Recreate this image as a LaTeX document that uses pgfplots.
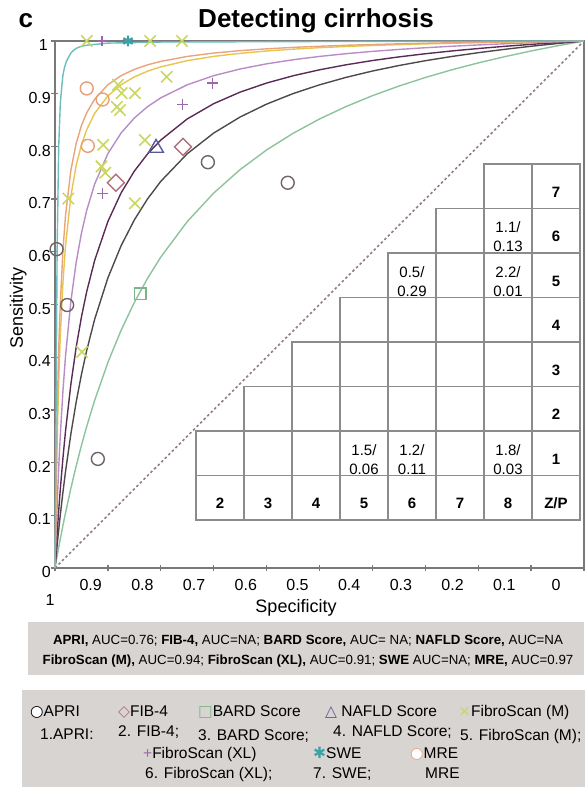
\documentclass[border=0pt]{standalone}
\usepackage{fontspec}
\setmainfont{Liberation Sans}
\newfontfamily\sym{DejaVu Sans}
\usepackage{pgfplots}
\usepackage{pgfplotstable}
\pgfplotsset{compat=1.18}
\definecolor{cTeal}{HTML}{6DBDBD}
\definecolor{cOrange}{HTML}{EAA47C}
\definecolor{cYellow}{HTML}{E8C450}
\definecolor{cLPurple}{HTML}{BA8CC6}
\definecolor{cDPurple}{HTML}{5A2C55}
\definecolor{cDGray}{HTML}{4E4A4C}
\definecolor{cGreen}{HTML}{8CC39A}
\definecolor{mAPRI}{HTML}{6E6466}
\definecolor{mFIB}{HTML}{B2707E}
\definecolor{mBARD}{HTML}{7DB58A}
\definecolor{mNAFLD}{HTML}{565A98}
\definecolor{mFSM}{HTML}{C9D75E}
\definecolor{mFSXL}{HTML}{9B68AB}
\definecolor{mSWE}{HTML}{3AA3A5}
\definecolor{mMRE}{HTML}{E69F78}
\definecolor{boxgray}{HTML}{D7D4D1}
\definecolor{gridgray}{HTML}{8C8A8A}
\definecolor{axgray}{HTML}{7A7878}
\definecolor{diag}{HTML}{8E7F86}
\newcommand{\wcirc}[1]{\makebox[0pt][l]{\textcolor{white}{\sym ●}}\textcolor{#1}{\sym ○}}
% summary ROC curves: specificity, then sensitivity of each curve
\pgfplotstableread{
spec   green  gray   dpur   lpur   yell   oran
1      0      0      0      0      0      0
0.998  0.0114 0.0216 0.0335 0.0622 0.1344 0.1662
0.995  0.0281 0.0525 0.0799 0.1427 0.2802 0.3333
0.9925 0.0417 0.0769 0.1155 0.2002 0.3693 0.4292
0.99   0.0549 0.1002 0.1487 0.2507 0.4390 0.5012
0.985  0.0806 0.1437 0.2084 0.3353 0.5413 0.6024
0.98   0.1051 0.1837 0.2608 0.4033 0.6126 0.6700
0.97   0.1511 0.2542 0.3484 0.5060 0.7056 0.7547
0.96   0.1934 0.3147 0.4187 0.5798 0.7635 0.8056
0.95   0.2325 0.3672 0.4764 0.6354 0.8031 0.8396
0.94   0.2687 0.4130 0.5246 0.6788 0.8318 0.8639
0.925  0.3182 0.4720 0.5837 0.7286 0.8627 0.8897
0.9    0.3900 0.5505 0.6576 0.7863 0.8959 0.9170
0.875  0.4512 0.6116 0.7118 0.8255 0.9171 0.9343
0.85   0.5039 0.6605 0.7531 0.8539 0.9318 0.9461
0.825  0.5497 0.7004 0.7857 0.8754 0.9427 0.9548
0.8    0.5900 0.7337 0.8121 0.8922 0.9509 0.9613
0.75   0.6573 0.7861 0.8521 0.9169 0.9627 0.9707
0.7    0.7115 0.8253 0.8811 0.9342 0.9708 0.9771
0.65   0.7560 0.8558 0.9030 0.9469 0.9766 0.9817
0.6    0.7932 0.8802 0.9202 0.9567 0.9810 0.9851
0.55   0.8248 0.9002 0.9340 0.9644 0.9845 0.9879
0.5    0.8520 0.9168 0.9453 0.9707 0.9873 0.9900
0.45   0.8755 0.9309 0.9548 0.9759 0.9896 0.9919
0.4    0.8962 0.9430 0.9629 0.9803 0.9915 0.9933
0.35   0.9144 0.9534 0.9698 0.9840 0.9931 0.9946
0.3    0.9307 0.9626 0.9758 0.9872 0.9945 0.9957
0.25   0.9453 0.9706 0.9811 0.9900 0.9957 0.9967
0.2    0.9584 0.9778 0.9857 0.9925 0.9968 0.9975
0.15   0.9702 0.9842 0.9899 0.9947 0.9977 0.9982
0.1    0.9811 0.9900 0.9936 0.9967 0.9986 0.9989
0.05   0.9909 0.9952 0.9970 0.9984 0.9993 0.9995
0      1      1      1      1      1      1
}\sroc
\begin{document}
\begin{tikzpicture}
\path[use as bounding box] (-55bp,-219bp) rectangle (530bp,568bp);
\begin{axis}[at={(0,0)},anchor=south west,scale only axis,width=529bp,height=527bp,
  xmin=0,xmax=1,ymin=0,ymax=1,x dir=reverse,clip=false,
  xtick={0,0.1,0.2,0.3,0.4,0.5,0.6,0.7,0.8,0.9,1},
  ytick={0,0.1,0.2,0.3,0.4,0.5,0.6,0.7,0.8,0.9,1},
  xticklabels={},yticklabels={},
  tick align=center,major tick length=7bp,xtick pos=bottom,ytick pos=left,
  tick style={axgray,line width=1.3bp},
  axis line style={axgray,line width=1.8bp}]
\addplot[diag,line width=1.6bp,dash pattern=on 2.5bp off 2.5bp] coordinates {(1,0) (0,1)};
% SROC curves
\addplot[cGreen,line width=1.4bp] table[x=spec,y=green] {\sroc};
\addplot[cDGray,line width=1.4bp] table[x=spec,y=gray] {\sroc};
\addplot[cDPurple,line width=1.4bp] table[x=spec,y=dpur] {\sroc};
\addplot[cLPurple,line width=1.4bp] table[x=spec,y=lpur] {\sroc};
\addplot[cYellow,line width=1.4bp] table[x=spec,y=yell] {\sroc};
\addplot[cOrange,line width=1.4bp] table[x=spec,y=oran] {\sroc};
\addplot[cTeal,line width=1.4bp] coordinates {(1,0) (0.998,0.3) (0.996,0.6) (0.993,0.8) (0.99,0.88) (0.987,0.915) (0.985,0.935) (0.982,0.95) (0.978,0.962) (0.974,0.97) (0.97,0.977) (0.965,0.982) (0.96,0.986) (0.95,0.99) (0.94,0.992) (0.92,0.994) (0.9,0.996) (0.8,0.998) (0.5,0.999) (0,1)};
% study points
\addplot[only marks,mark=o,mAPRI,mark size=6.5,line width=1.4bp] coordinates {(0.997,0.605) (0.977,0.499) (0.919,0.207) (0.711,0.770) (0.560,0.731)};
\addplot[only marks,mark=square,mark options={rotate=45},mFIB,mark size=6,line width=1.4bp] coordinates {(0.885,0.731) (0.758,0.799)};
\addplot[only marks,mark=square,mBARD,mark size=5.8,line width=1.4bp] coordinates {(0.839,0.520)};
\addplot[only marks,mark=triangle,mNAFLD,mark size=8.5,line width=1.4bp] coordinates {(0.809,0.797)};
\addplot[only marks,mark=x,mFSM,mark size=8,line width=1.6bp] coordinates {(0.940,1.0) (0.820,1.0) (0.760,1.0) (0.881,0.917) (0.874,0.901) (0.849,0.901) (0.883,0.875) (0.877,0.869) (0.789,0.932) (0.909,0.803) (0.830,0.812) (0.912,0.762) (0.905,0.750) (0.849,0.692) (0.975,0.701) (0.949,0.410)};
\addplot[only marks,mark=+,mFSXL,mark size=5.5,line width=1.4bp] coordinates {(0.911,1.0) (0.702,0.920) (0.759,0.880) (0.910,0.711)};
\addplot[only marks,mark=asterisk,mSWE,mark size=5.5,line width=2.4bp] coordinates {(0.862,1.0)};
\addplot[only marks,mark=o,mMRE,mark size=6.5,line width=1.4bp] coordinates {(0.940,0.910) (0.910,0.889) (0.938,0.801)};
\end{axis}
\begin{scope}[shift={(-55bp,568bp)},x=1bp,y=-1bp]
% title
\node[anchor=base,font=\fontsize{26bp}{30bp}\selectfont\bfseries] at (316,28) {Detecting cirrhosis};
\node[anchor=base west,font=\fontsize{26bp}{30bp}\selectfont\bfseries] at (15,28) {c};
% y tick labels
\foreach \v/\t in {0/0,0.1/0.1,0.2/0.2,0.3/0.3,0.4/0.4,0.5/0.5,0.6/0.6,0.7/0.7,0.8/0.8,0.9/0.9}
  \node[anchor=base east,font=\fontsize{16bp}{18bp}\selectfont,inner sep=0pt] at (51,{577.7-527*\v}) {\t};
\node[anchor=base east,font=\fontsize{16bp}{18bp}\selectfont,inner sep=0pt] at (48,51) {1};
% x tick labels
\foreach \p/\t in {90.7/0.9,142.4/0.8,194.1/0.7,245.8/0.6,297.5/0.5,349.2/0.4,400.9/0.3,452.6/0.2,504.3/0.1,556/0}
  \node[anchor=base,font=\fontsize{16bp}{18bp}\selectfont,inner sep=0pt] at (\p,590.7) {\t};
\node[anchor=base,font=\fontsize{16bp}{18bp}\selectfont,inner sep=0pt] at (50,606) {1};
% axis labels
\node[anchor=base,font=\fontsize{18bp}{20bp}\selectfont,inner sep=0pt] at (296,613) {Specificity};
\node[anchor=base,rotate=90,font=\fontsize{18bp}{20bp}\selectfont,inner sep=0pt] at (23,308) {Sensitivity};
% table
\foreach \r in {0,...,7}{
  \pgfmathtruncatemacro\s{max(\r-1,0)}
  \foreach \c in {\s,...,7}{
    \draw[gridgray,line width=1.4bp,fill=white] ({196+48*\c},{520-44.5*\r}) rectangle ({244+48*\c},{475.5-44.5*\r});
  }
}
\foreach \c/\t in {0/2,1/3,2/4,3/5,4/6,5/7,6/8}
  \node[font=\fontsize{15bp}{17bp}\selectfont\bfseries,inner sep=0pt] at ({220+48*\c},503) {\t};
\node[font=\fontsize{15bp}{17bp}\selectfont\bfseries,inner sep=0pt] at (556,503) {Z/P};
\foreach \r in {1,...,7}
  \node[font=\fontsize{15bp}{17bp}\selectfont\bfseries,inner sep=0pt] at (556,{503.5-44.5*\r}) {\r};
\tikzset{cv/.style={font=\fontsize{15bp}{17bp}\selectfont,inner sep=0pt}}
\node[cv] at (364,450) {1.5/}; \node[cv] at (364,469) {0.06};
\node[cv] at (412,450) {1.2/}; \node[cv] at (412,469) {0.11};
\node[cv] at (508,450) {1.8/}; \node[cv] at (508,469) {0.03};
\node[cv] at (412,272) {0.5/}; \node[cv] at (412,291) {0.29};
\node[cv] at (508,272) {2.2/}; \node[cv] at (508,291) {0.01};
\node[cv] at (508,227.5) {1.1/}; \node[cv] at (508,246.5) {0.13};
% AUC box
\fill[boxgray] (28,622) rectangle (584,675);
\node[anchor=base,font=\fontsize{13.3bp}{15bp}\selectfont,inner sep=0pt] at (308,644.5) {\textbf{APRI,} AUC=0.76; \textbf{FIB-4,} AUC=NA; \textbf{BARD Score,} AUC= NA; \textbf{NAFLD Score,} AUC=NA};
\node[anchor=base,font=\fontsize{13.3bp}{15bp}\selectfont,inner sep=0pt] at (308,664.5) {\textbf{FibroScan (M),} AUC=0.94; \textbf{FibroScan (XL),} AUC=0.91; \textbf{SWE} AUC=NA; \textbf{MRE,} AUC=0.97};
% legend box
\fill[boxgray] (22,690) rectangle (586,790);
\tikzset{lg/.style={anchor=base west,font=\fontsize{15.5bp}{18bp}\selectfont,inner sep=0pt}}
\node[lg] at (30,716.5) {\wcirc{black}APRI};
\node[lg] at (118,716.5) {\textcolor{mFIB}{\sym ◇}FIB-4};
\node[lg] at (198,716.5) {\textcolor{mBARD}{\sym □}BARD Score};
\node[lg] at (325,716.5) {\textcolor{mNAFLD}{\sym △} NAFLD Score};
\node[lg] at (458,716.5) {\textcolor{mFSM}{\sym ×}FibroScan (M)};
\node[lg] at (40,740) {1.APRI:};
\node[lg] at (118,736.5) {2. FIB-4;};
\node[lg] at (198,741) {3. BARD Score;};
\node[lg] at (333,736.5) {4. NAFLD Score;};
\node[lg] at (460,741) {5. FibroScan (M);};
\node[lg] at (143,758.5) {\textcolor{mFSXL}{+}FibroScan (XL)};
\node[lg] at (313,758.5) {\textcolor{mSWE}{\sym ✱}SWE};
\node[lg] at (410,758.5) {\wcirc{mMRE}MRE};
\node[lg] at (145,778.5) {6. FibroScan (XL);};
\node[lg] at (313,778.5) {7. SWE;};
\node[lg] at (425,778.5) {MRE};
\end{scope}
\end{tikzpicture}
\end{document}
